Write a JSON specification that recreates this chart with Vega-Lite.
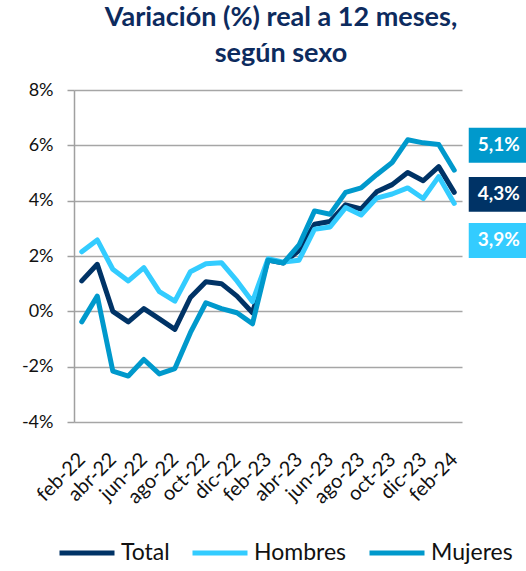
{
  "$schema": "https://vega.github.io/schema/vega-lite/v6.json",
  "width": 388,
  "height": 332,
  "autosize": {"type": "none"},
  "padding": {"left": 74, "top": 90, "right": 64, "bottom": 149},
  "background": "white",
  "title": {
    "text": ["Variación (%) real a 12 meses,", "según sexo"],
    "font": "Lato",
    "fontSize": 27,
    "fontWeight": "bold",
    "color": "#0D2B5E",
    "anchor": "middle",
    "lineHeight": 36,
    "offset": 13,
    "dx": 13
  },
  "data": {
    "values": [
      {"month": "feb-22", "Total": 1.1, "Hombres": 2.15, "Mujeres": -0.38},
      {"month": "mar-22", "Total": 1.7, "Hombres": 2.58, "Mujeres": 0.55},
      {"month": "abr-22", "Total": 0.0, "Hombres": 1.52, "Mujeres": -2.16},
      {"month": "may-22", "Total": -0.38, "Hombres": 1.1, "Mujeres": -2.34},
      {"month": "jun-22", "Total": 0.1, "Hombres": 1.58, "Mujeres": -1.74},
      {"month": "jul-22", "Total": -0.27, "Hombres": 0.71, "Mujeres": -2.26},
      {"month": "ago-22", "Total": -0.65, "Hombres": 0.37, "Mujeres": -2.07},
      {"month": "sep-22", "Total": 0.5, "Hombres": 1.43, "Mujeres": -0.77},
      {"month": "oct-22", "Total": 1.07, "Hombres": 1.72, "Mujeres": 0.31},
      {"month": "nov-22", "Total": 1.0, "Hombres": 1.76, "Mujeres": 0.1},
      {"month": "dic-22", "Total": 0.55, "Hombres": 1.1, "Mujeres": -0.05},
      {"month": "ene-23", "Total": -0.05, "Hombres": 0.35, "Mujeres": -0.45},
      {"month": "feb-23", "Total": 1.85, "Hombres": 1.9, "Mujeres": 1.85},
      {"month": "mar-23", "Total": 1.75, "Hombres": 1.78, "Mujeres": 1.75},
      {"month": "abr-23", "Total": 2.2, "Hombres": 1.85, "Mujeres": 2.4},
      {"month": "may-23", "Total": 3.15, "Hombres": 2.97, "Mujeres": 3.63},
      {"month": "jun-23", "Total": 3.25, "Hombres": 3.05, "Mujeres": 3.51},
      {"month": "jul-23", "Total": 3.85, "Hombres": 3.75, "Mujeres": 4.3},
      {"month": "ago-23", "Total": 3.7, "Hombres": 3.48, "Mujeres": 4.46},
      {"month": "sep-23", "Total": 4.32, "Hombres": 4.09, "Mujeres": 4.94},
      {"month": "oct-23", "Total": 4.58, "Hombres": 4.24, "Mujeres": 5.38},
      {"month": "nov-23", "Total": 5.02, "Hombres": 4.46, "Mujeres": 6.2},
      {"month": "dic-23", "Total": 4.72, "Hombres": 4.08, "Mujeres": 6.09},
      {"month": "ene-24", "Total": 5.23, "Hombres": 4.87, "Mujeres": 6.03},
      {"month": "feb-24", "Total": 4.3, "Hombres": 3.9, "Mujeres": 5.1}
    ]
  },
  "transform": [
    {"fold": ["Total", "Hombres", "Mujeres"], "as": ["serie", "valor"]},
    {"calculate": "replace(format(datum.valor, '.1f'), '.', ',') + '%'", "as": "lab"}
  ],
  "encoding": {
    "x": {
      "field": "month",
      "type": "ordinal",
      "sort": null,
      "scale": {"type": "point", "padding": 0.5},
      "axis": {
        "title": null,
        "values": ["feb-22", "abr-22", "jun-22", "ago-22", "oct-22", "dic-22", "feb-23", "abr-23", "jun-23", "ago-23", "oct-23", "dic-23", "feb-24"],
        "labelAngle": -45,
        "labelAlign": "right",
        "labelBaseline": "middle",
        "labelFont": "Lato",
        "labelFontSize": 20,
        "labelColor": "#111111",
        "labelPadding": 34,
        "domain": false,
        "ticks": false,
        "grid": false
      }
    },
    "y": {
      "field": "valor",
      "type": "quantitative",
      "scale": {"domain": [-4, 8], "nice": false},
      "axis": {
        "title": null,
        "values": [-4, -2, 0, 2, 4, 6, 8],
        "labelExpr": "datum.value + '%'",
        "labelFont": "Lato",
        "labelFontSize": 18,
        "labelColor": "#111111",
        "labelPadding": 14,
        "tickSize": 7,
        "tickColor": "#A0A0A0",
        "tickWidth": 1.5,
        "domainColor": "#A0A0A0",
        "domainWidth": 1.5,
        "gridColor": "#A6A6A6",
        "gridWidth": 1.5
      }
    }
  },
  "layer": [
    {
      "mark": {"type": "line", "strokeWidth": 5, "strokeCap": "round", "strokeJoin": "round"},
      "encoding": {
        "color": {
          "field": "serie",
          "type": "nominal",
          "scale": {"domain": ["Total", "Hombres", "Mujeres"], "range": ["#003366", "#33CCFF", "#0099CC"]},
          "legend": {
            "title": null,
            "orient": "none",
            "legendX": -17,
            "legendY": 433,
            "direction": "horizontal",
            "symbolType": "stroke",
            "symbolSize": 3025,
            "symbolStrokeWidth": 5,
            "labelFont": "Lato",
            "labelFontSize": 23,
            "labelColor": "#111111",
            "labelOffset": 4,
            "columnPadding": 12
          }
        }
      }
    },
    {
      "transform": [{"filter": "datum.month == 'feb-24' && datum.serie == 'Mujeres'"}],
      "layer": [
        {"mark": {"type": "point", "shape": "M-1,-0.583H1V0.583H-1Z", "size": 3600, "filled": true, "opacity": 1, "color": "#0099CC", "xOffset": 44.5, "yOffset": -25}},
        {"mark": {"type": "text", "font": "Lato", "fontSize": 19, "fontWeight": "bold", "color": "white", "align": "center", "baseline": "middle", "xOffset": 44.5, "yOffset": -25}, "encoding": {"text": {"field": "lab"}}}
      ]
    },
    {
      "transform": [{"filter": "datum.month == 'feb-24' && datum.serie == 'Total'"}],
      "layer": [
        {"mark": {"type": "point", "shape": "M-1,-0.583H1V0.583H-1Z", "size": 3600, "filled": true, "opacity": 1, "color": "#003366", "xOffset": 44.5, "yOffset": 2}},
        {"mark": {"type": "text", "font": "Lato", "fontSize": 19, "fontWeight": "bold", "color": "white", "align": "center", "baseline": "middle", "xOffset": 44.5, "yOffset": 2}, "encoding": {"text": {"field": "lab"}}}
      ]
    },
    {
      "transform": [{"filter": "datum.month == 'feb-24' && datum.serie == 'Hombres'"}],
      "layer": [
        {"mark": {"type": "point", "shape": "M-1,-0.583H1V0.583H-1Z", "size": 3600, "filled": true, "opacity": 1, "color": "#33CCFF", "xOffset": 44.5, "yOffset": 37}},
        {"mark": {"type": "text", "font": "Lato", "fontSize": 19, "fontWeight": "bold", "color": "white", "align": "center", "baseline": "middle", "xOffset": 44.5, "yOffset": 37}, "encoding": {"text": {"field": "lab"}}}
      ]
    }
  ],
  "config": {"view": {"stroke": null}}
}
